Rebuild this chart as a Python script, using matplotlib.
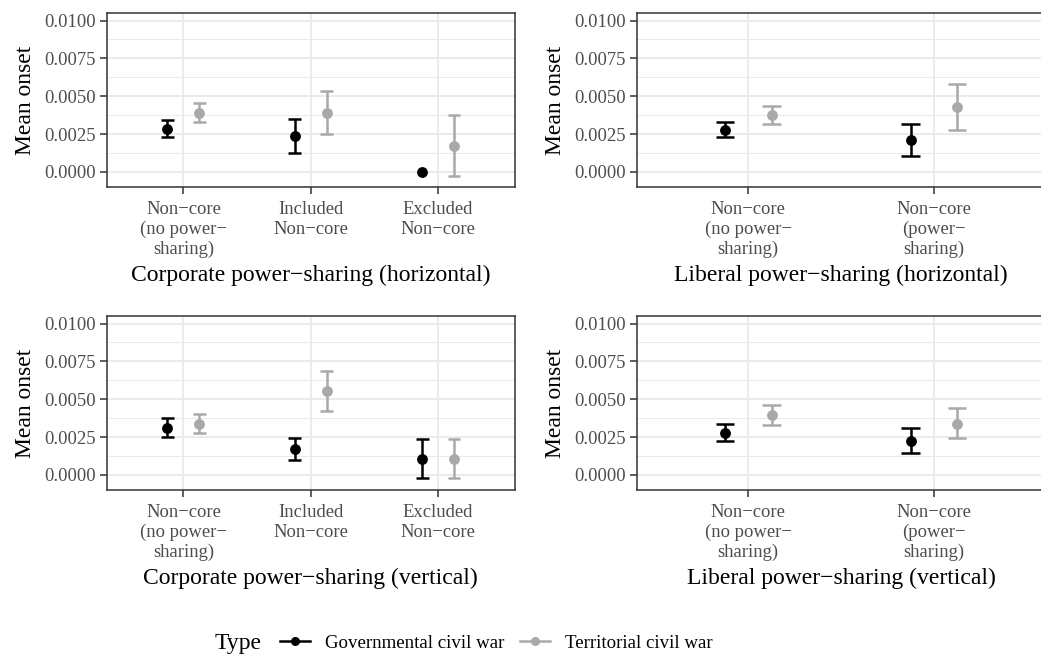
import matplotlib
matplotlib.use("Agg")
import matplotlib.pyplot as plt
import numpy as np
from matplotlib.lines import Line2D
from matplotlib.ticker import MultipleLocator, FormatStrFormatter

plt.rcParams['font.family'] = ['Liberation Serif', 'DejaVu Serif']

# ---------------- data ----------------
corp_cats = ["Non\u2212core\n(no power\u2212\nsharing)", "Included\nNon\u2212core", "Excluded\nNon\u2212core"]
lib_cats = ["Non\u2212core\n(no power\u2212\nsharing)", "Non\u2212core\n(power\u2212\nsharing)"]

# Corporate power-sharing (horizontal)
ch_gov = [0.00286, 0.00237, 0.0]
ch_gov_lo = [0.00230, 0.00127, np.nan]
ch_gov_hi = [0.00340, 0.00347, np.nan]
ch_ter = [0.00390, 0.00390, 0.00174]
ch_ter_lo = [0.00330, 0.00248, -0.00026]
ch_ter_hi = [0.00455, 0.00534, 0.00378]

# Liberal power-sharing (horizontal)
lh_gov = [0.00279, 0.00213]
lh_gov_lo = [0.00229, 0.00108]
lh_gov_hi = [0.00327, 0.00314]
lh_ter = [0.00376, 0.00429]
lh_ter_lo = [0.00316, 0.00279]
lh_ter_hi = [0.00433, 0.00580]

# Corporate power-sharing (vertical)
cv_gov = [0.00313, 0.00172, 0.00106]
cv_gov_lo = [0.00252, 0.00099, -0.00022]
cv_gov_hi = [0.00373, 0.00245, 0.00236]
cv_ter = [0.00338, 0.00554, 0.00106]
cv_ter_lo = [0.00276, 0.00424, -0.00022]
cv_ter_hi = [0.00402, 0.00684, 0.00236]

# Liberal power-sharing (vertical)
lv_gov = [0.00280, 0.00225]
lv_gov_lo = [0.00223, 0.00146]
lv_gov_hi = [0.00338, 0.00307]
lv_ter = [0.00397, 0.00338]
lv_ter_lo = [0.00331, 0.00245]
lv_ter_hi = [0.00464, 0.00440]

series_names = ["Governmental civil war", "Territorial civil war"]
titles = ["Corporate power\u2212sharing (horizontal)", "Liberal power\u2212sharing (horizontal)",
          "Corporate power\u2212sharing (vertical)", "Liberal power\u2212sharing (vertical)"]

# ---------------- style ----------------
GOV_C = "#000000"
TER_C = "#A9A9A9"
GRID_C = "#EBEBEB"
TICK_C = "#4D4D4D"
BORDER_C = "#333333"

W, H = 1041, 659
fig = plt.figure(figsize=(W / 100, H / 100), dpi=100)

def px_axes(left, top, right, bottom):
    return fig.add_axes([left / W, 1 - bottom / H, (right - left) / W, (bottom - top) / H])

panels = [
    (px_axes(107, 13, 514.5, 187), corp_cats, (ch_gov, ch_gov_lo, ch_gov_hi), (ch_ter, ch_ter_lo, ch_ter_hi), titles[0]),
    (px_axes(636.9, 13, 1045.4, 187), lib_cats, (lh_gov, lh_gov_lo, lh_gov_hi), (lh_ter, lh_ter_lo, lh_ter_hi), titles[1]),
    (px_axes(107, 316, 514.5, 490), corp_cats, (cv_gov, cv_gov_lo, cv_gov_hi), (cv_ter, cv_ter_lo, cv_ter_hi), titles[2]),
    (px_axes(636.9, 316, 1045.4, 490), lib_cats, (lv_gov, lv_gov_lo, lv_gov_hi), (lv_ter, lv_ter_lo, lv_ter_hi), titles[3]),
]

dodge = 0.125
capw = 0.05
for ax, cats, gov, ter, title in panels:
    n = len(cats)
    x = np.arange(1, n + 1)
    for (vals, lo, hi), off, col in [(gov, -dodge, GOV_C), (ter, dodge, TER_C)]:
        xs = x + off
        vals = np.array(vals, dtype=float)
        lo = np.array(lo, dtype=float)
        hi = np.array(hi, dtype=float)
        ok = ~np.isnan(lo)
        ax.vlines(xs[ok], lo[ok], hi[ok], color=col, lw=1.8, zorder=3)
        ax.hlines(lo[ok], xs[ok] - capw, xs[ok] + capw, color=col, lw=1.8, zorder=3)
        ax.hlines(hi[ok], xs[ok] - capw, xs[ok] + capw, color=col, lw=1.8, zorder=3)
        ax.plot(xs, vals, 'o', color=col, ms=7.8, mec='none', zorder=4)
    ax.set_xlim(0.4, n + 0.6)
    ax.set_ylim(-0.001, 0.0105)
    ax.set_xticks(x)
    ax.set_xticklabels(cats, fontsize=13.4, color=TICK_C, linespacing=1.22)
    ax.yaxis.set_major_locator(MultipleLocator(0.0025))
    ax.yaxis.set_minor_locator(MultipleLocator(0.00125))
    ax.yaxis.set_major_formatter(FormatStrFormatter('%.4f'))
    for lab in ax.get_yticklabels():
        lab.set_fontsize(13.4)
        lab.set_color(TICK_C)
    ax.tick_params(axis='both', which='major', length=5, width=1.1, color=BORDER_C, pad=3)
    ax.tick_params(axis='x', which='major', pad=5)
    ax.tick_params(axis='y', which='minor', length=0)
    ax.grid(True, which='major', color=GRID_C, lw=1.4, zorder=0)
    ax.grid(True, which='minor', axis='y', color=GRID_C, lw=0.7, zorder=0)
    ax.set_axisbelow(True)
    for s in ax.spines.values():
        s.set_color(BORDER_C)
        s.set_linewidth(1.1)
    ax.set_ylabel("Mean onset", fontsize=17, labelpad=6)
    ax.set_xlabel(title, fontsize=17, labelpad=5)

# ---------------- legend ----------------
handles = [Line2D([], [], color=GOV_C, lw=1.8, marker='o', ms=6.5, mec='none'),
           Line2D([], [], color=TER_C, lw=1.8, marker='o', ms=6.5, mec='none')]
fig.legend(handles, series_names, loc='center left', bbox_to_anchor=(280 / W, 1 - 643 / H),
           ncol=2, frameon=False, fontsize=13.6, handlelength=1.6, handletextpad=0.8,
           columnspacing=0.8, borderpad=0, borderaxespad=0)
fig.text(215 / W, 1 - 643 / H, "Type", fontsize=17, ha='left', va='center')

fig.savefig("out.png", dpi=100)
